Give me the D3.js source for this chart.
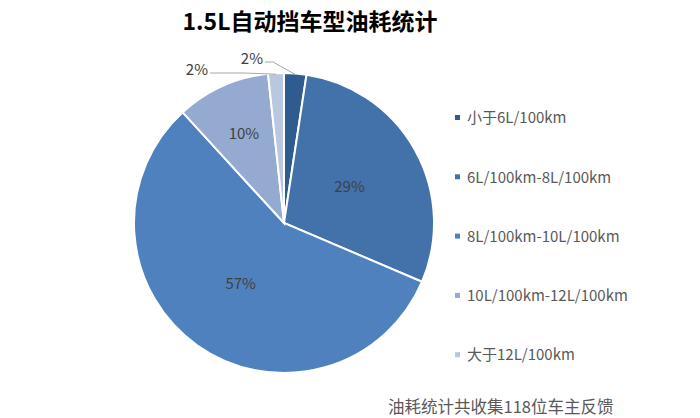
<!DOCTYPE html>
<html>
<head>
<meta charset="utf-8">
<script src="https://cdn.jsdelivr.net/npm/d3@7"></script>
<style>
  body { margin: 0; background: #fff; }
  svg { font-family: "Noto Sans CJK SC", "Noto Sans", sans-serif; }
</style>
</head>
<body>
<svg id="chart" width="700" height="418"></svg>
<script>
// 1.5L auto gearbox fuel use survey - share of owners per band (%)
var categories = ['小于6L/100km', '6L/100km-8L/100km', '8L/100km-10L/100km',
                  '10L/100km-12L/100km', '大于12L/100km'];
var shares = [2.4, 29.0, 56.8, 10.1, 1.7];
var colors = ['#2f5b8f', '#4371aa', '#4f81bf', '#95aad1', '#b9c7e1'];

var svg = d3.select('#chart');
var cx = 284, cy = 223, r = 150;

// title
svg.append('text')
  .attr('x', 310)
  .attr('y', 30)
  .attr('text-anchor', 'middle')
  .attr('font-size', '23px')
  .attr('font-weight', 'bold')
  .attr('fill', '#000')
  .text('1.5L自动挡车型油耗统计');

var pie = d3.pie().sort(null).value(function(d) { return d; });
var arcs = pie(shares);
var arc = d3.arc().innerRadius(0).outerRadius(r);

var g = svg.append('g').attr('transform', 'translate(' + cx + ',' + cy + ')');

g.selectAll('path')
  .data(arcs)
  .enter().append('path')
  .attr('d', arc)
  .attr('fill', function(d, i) { return colors[i]; })
  .attr('stroke', '#fff')
  .attr('stroke-width', 2);

// inside labels (small slices sit a bit further out, like excel best fit)
var fmt = function(v) { return Math.round(v) + '%'; };
arcs.forEach(function(d, i) {
  if (d.data < 5) return;
  var lr = d.data < 15 ? r * 0.65 : r * 0.5;
  var pos = d3.arc().innerRadius(lr).outerRadius(lr).centroid(d);
  g.append('text')
    .attr('x', pos[0])
    .attr('y', pos[1])
    .attr('dy', '0.35em')
    .attr('text-anchor', 'middle')
    .attr('font-size', '15px')
    .attr('fill', '#404040')
    .text(fmt(d.data));
});

// outside labels for the two thin slices, with leader lines
var outside = [
  { idx: 0, elbow: [-11, -161], end: [-19, -161] },
  { idx: 4, elbow: [-40, -150], end: [-74, -150] }
];
outside.forEach(function(o) {
  var d = arcs[o.idx];
  var pt = d3.arc().innerRadius(r - 1).outerRadius(r - 1).centroid(d);
  g.append('polyline')
    .attr('points', [pt, o.elbow, o.end].map(function(p) { return p.join(','); }).join(' '))
    .attr('fill', 'none')
    .attr('stroke', '#a6a6a6')
    .attr('stroke-width', 1);
  g.append('text')
    .attr('x', o.end[0] - 2)
    .attr('y', o.end[1])
    .attr('dy', '0.15em')
    .attr('text-anchor', 'end')
    .attr('font-size', '15px')
    .attr('fill', '#404040')
    .text(fmt(d.data));
});

// legend
var legend = svg.append('g').attr('transform', 'translate(455,118)');
var item = legend.selectAll('g')
  .data(categories)
  .enter().append('g')
  .attr('transform', function(d, i) { return 'translate(0,' + (i * 59.3) + ')'; });
item.append('rect')
  .attr('x', 0).attr('y', -3)
  .attr('width', 5).attr('height', 5)
  .attr('fill', function(d, i) { return colors[i]; });
item.append('text')
  .attr('x', 12)
  .attr('y', 0)
  .attr('dy', '0.35em')
  .attr('font-size', '15px')
  .attr('fill', '#595959')
  .text(function(d) { return d; });

// footnote
svg.append('text')
  .attr('x', 388)
  .attr('y', 413)
  .attr('font-size', '16.5px')
  .attr('fill', '#595959')
  .text('油耗统计共收集118位车主反馈');
</script>
</body>
</html>
